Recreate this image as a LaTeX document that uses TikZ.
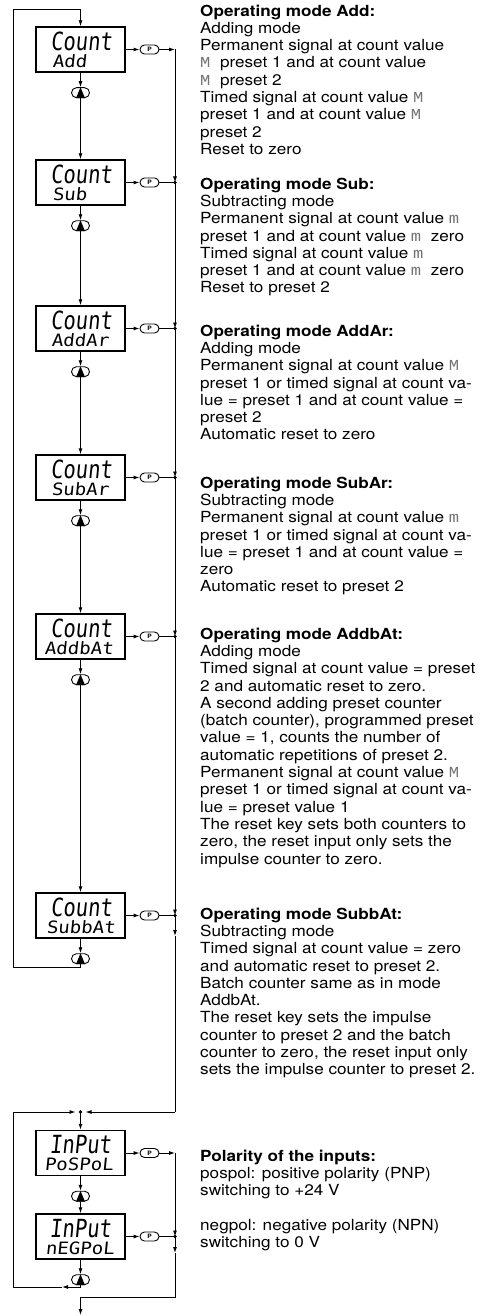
\documentclass[tikz,border=0pt]{standalone}
\usepackage{fontspec}
\setmainfont{TeX Gyre Heros}[FakeStretch=1.12]
\newfontfamily\gmono{Liberation Mono}[FakeStretch=1.12]
\newfontfamily\lcdA{DejaVu Sans Mono}[FakeStretch=0.82,FakeSlant=0.1]
\newfontfamily\lcdB{DejaVu Sans Mono}[FakeStretch=1.12,FakeSlant=0.1]
\usetikzlibrary{arrows.meta,calc}
\newcommand\gm[1]{{\gmono\color{black!55}#1}}
\tikzset{
  disp/.style={draw, line width=1.4pt, minimum width=89pt, minimum height=45pt, inner sep=0pt},
  pbtn/.style={draw, line width=0.9pt, rounded corners=4.5pt, minimum width=19pt, minimum height=9pt, inner sep=0pt, font=\fontsize{6}{6}\selectfont\bfseries},
  ubtn/.style={draw, line width=0.9pt, rounded corners=5pt, minimum width=18pt, minimum height=10pt, inner sep=0pt},
  conn/.style={line width=0.9pt},
  arr/.style={conn, -{Latex[length=6pt,width=4pt]}},
  txt/.style={anchor=north west, align=left, inner sep=0pt, font=\fontsize{15.3}{17.3}\selectfont},
  lcdone/.style={anchor=base west, inner sep=0pt, font=\lcdA\fontsize{25}{25}\selectfont},
  lcdtwo/.style={anchor=base west, inner sep=0pt, font=\lcdB\fontsize{17}{17}\selectfont},
  jdot/.style={circle, fill, inner sep=0pt, minimum size=3.6pt}
}
\begin{document}
\begin{tikzpicture}[x=1pt,y=-1pt]
\useasboundingbox (0,0) rectangle (483,1316);
% display boxes
\node[disp] (b1) at (80.5,49.5) {};
\node[disp] (b2) at (80.5,182.5) {};
\node[disp] (b3) at (80.5,328.5) {};
\node[disp] (b4) at (80.5,477.5) {};
\node[disp] (b5) at (80.5,636.5) {};
\node[disp] (b6) at (80.5,915.5) {};
\node[disp] (b7) at (80.5,1153) {};
\node[disp] (b8) at (80.5,1236.5) {};
% display texts
\node[lcdone] (t1a) at ($(b1.north west)+(15,24)$) {Count};
\node[lcdtwo] (t1b) at ($(b1.north west)+(17,41)$) {Add};
\node[lcdone] (t2a) at ($(b2.north west)+(15,24)$) {Count};
\node[lcdtwo] (t2b) at ($(b2.north west)+(17,41)$) {Sub};
\node[lcdone] (t3a) at ($(b3.north west)+(15,24)$) {Count};
\node[lcdtwo] (t3b) at ($(b3.north west)+(16,41)$) {AddAr};
\node[lcdone] (t4a) at ($(b4.north west)+(15,24)$) {Count};
\node[lcdtwo] (t4b) at ($(b4.north west)+(16,41)$) {SubAr};
\node[lcdone] (t5a) at ($(b5.north west)+(15,24)$) {Count};
\node[lcdtwo] (t5b) at ($(b5.north west)+(9,41)$) {AddbAt};
\node[lcdone] (t6a) at ($(b6.north west)+(15,24)$) {Count};
\node[lcdtwo] (t6b) at ($(b6.north west)+(11,41)$) {SubbAt};
\node[lcdone] (t7a) at ($(b7.north west)+(14,24)$) {InPut};
\node[lcdtwo] (t7b) at ($(b7.north west)+(9,41)$) {PoSPoL};
\node[lcdone] (t8a) at ($(b8.north west)+(14,24)$) {InPut};
\node[lcdtwo] (t8b) at ($(b8.north west)+(10,41)$) {nEGPoL};
% P buttons
\foreach \i in {1,...,8} {
  \node[pbtn] (p\i) at ($(b\i.center)+(69,0)$) {P};
  \draw[arr] (b\i.east) -- (p\i.west);
}
% up buttons
\foreach \i in {1,...,8} {
  \node[ubtn] (u\i) at ($(b\i.south)+(0,20)$) {};
  \fill (u\i.north) -- ($(u\i.south)+(-4.5,0)$) -- ($(u\i.south)+(4.5,0)$) -- cycle;
  \draw[arr] (b\i.south) -- (u\i.north);
}
\foreach \i/\j in {1/2,2/3,3/4,4/5,5/6,7/8} {
  \draw[arr] (u\i.south) -- (b\j.north);
}
% right bus, count section
\coordinate (c1) at (175,49.5);
\node[jdot] (j2) at (175,182.5) {};
\node[jdot] (j3) at (175,328.5) {};
\node[jdot] (j4) at (175,477.5) {};
\node[jdot] (j5) at (175,636.5) {};
\node[jdot] (j6) at (175,915.5) {};
\coordinate (m6) at (175,936);
\coordinate (c6) at (175,1112);
\node[jdot] (d7) at (80.5,1112) {};
\draw[arr] (p1.east) -- (c1);
\draw[arr] (c1) -- (j2.center);
\foreach \i in {2,...,5} { \draw[conn] (p\i.east) -- (j\i.center); }
\draw[conn] (p6.east) -- (j6.center);
\draw[arr] (j2.center) -- (j3.center);
\draw[arr] (j3.center) -- (j4.center);
\draw[arr] (j4.center) -- (j5.center);
\draw[arr] (j5.center) -- (j6.center);
\draw[arr] (j6.center) -- (m6);
\draw[conn] (m6) -- (c6);
\draw[arr, shorten >=5pt] (c6) -- (d7.center);
\draw[arr] (d7.center) -- (b7.north);
% left loop, count section
\coordinate (l1) at (13,967);
\coordinate (l2) at (13,9);
\coordinate (l3) at (80.5,9);
\draw[arr] (u6.south) |- (l1) -- (l2) -- (l3) -- (b1.north);
% right bus, input section
\coordinate (c7) at (175,1153);
\node[jdot] (j8) at (175,1236.5) {};
\coordinate (m8) at (175,1253);
\coordinate (c9) at (175,1297);
\coordinate (c10) at (80.5,1297);
\coordinate (e1) at (80.5,1315);
\draw[arr] (p7.east) -- (c7);
\draw[arr] (c7) -- (j8.center);
\draw[conn] (p8.east) -- (j8.center);
\draw[arr] (j8.center) -- (m8);
\draw[conn] (m8) -- (c9) -- (c10);
\draw[arr] (c10) -- (e1);
% left loop, input section
\coordinate (m9) at (62,1287);
\coordinate (l4) at (13,1287);
\coordinate (l5) at (13,1112);
\draw[arr] (u8.south) |- (m9);
\draw[conn] (m9) -- (l4) -- (l5);
\draw[arr, shorten >=5pt] (l5) -- (d7.center);
% texts
\node[txt] (x1) at (200,4.5) {\textbf{Operating mode Add:}\\
Adding mode\\
Permanent signal at count value\\
\gm{M}\ \ preset 1 and at count value\\
\gm{M}\ \ preset 2\\
Timed signal at count value \gm{M}\\
preset 1 and at count value \gm{M}\\
preset 2\\
Reset to zero};
\node[txt] (x2) at (200,177.5) {\textbf{Operating mode Sub:}\\
Subtracting mode\\
Permanent signal at count value \gm{m}\\
preset 1 and at count value \gm{m}\ \ zero\\
Timed signal at count value \gm{m}\\
preset 1 and at count value \gm{m}\ \ zero\\
Reset to preset 2};
\node[txt] (x3) at (200,324.5) {\textbf{Operating mode AddAr:}\\
Adding mode\\
Permanent signal at count value \gm{M}\\
preset 1 or timed signal at count va-\\
lue = preset 1 and at count value =\\
preset 2\\
Automatic reset to zero};
\node[txt] (x4) at (200,476.5) {\textbf{Operating mode SubAr:}\\
Subtracting mode\\
Permanent signal at count value \gm{m}\\
preset 1 or timed signal at count va-\\
lue = preset 1 and at count value =\\
zero\\
Automatic reset to preset 2};
\node[txt] (x5) at (200,627.5) {\textbf{Operating mode AddbAt:}\\
Adding mode\\
Timed signal at count value = preset\\
2 and automatic reset to zero.\\
A second adding preset counter\\
(batch counter), programmed preset\\
value = 1, counts the number of\\
automatic repetitions of preset 2.\\
Permanent signal at count value \gm{M}\\
preset 1 or timed signal at count va-\\
lue = preset value 1\\
The reset key sets both counters to\\
zero, the reset input only sets the\\
impulse counter to zero.};
\node[txt] (x6) at (200,907.5) {\textbf{Operating mode SubbAt:}\\
Subtracting mode\\
Timed signal at count value = zero\\
and automatic reset to preset 2.\\
Batch counter same as in mode\\
AddbAt.\\
The reset key sets the impulse\\
counter to preset 2 and the batch\\
counter to zero, the reset input only\\
sets the impulse counter to preset 2.};
\node[txt] (x7) at (200,1149.5) {\textbf{Polarity of the inputs:}\\
pospol: positive polarity (PNP)\\
switching to +24 V\\[17.3pt]
negpol: negative polarity (NPN)\\
switching to 0 V};
\end{tikzpicture}
\end{document}
